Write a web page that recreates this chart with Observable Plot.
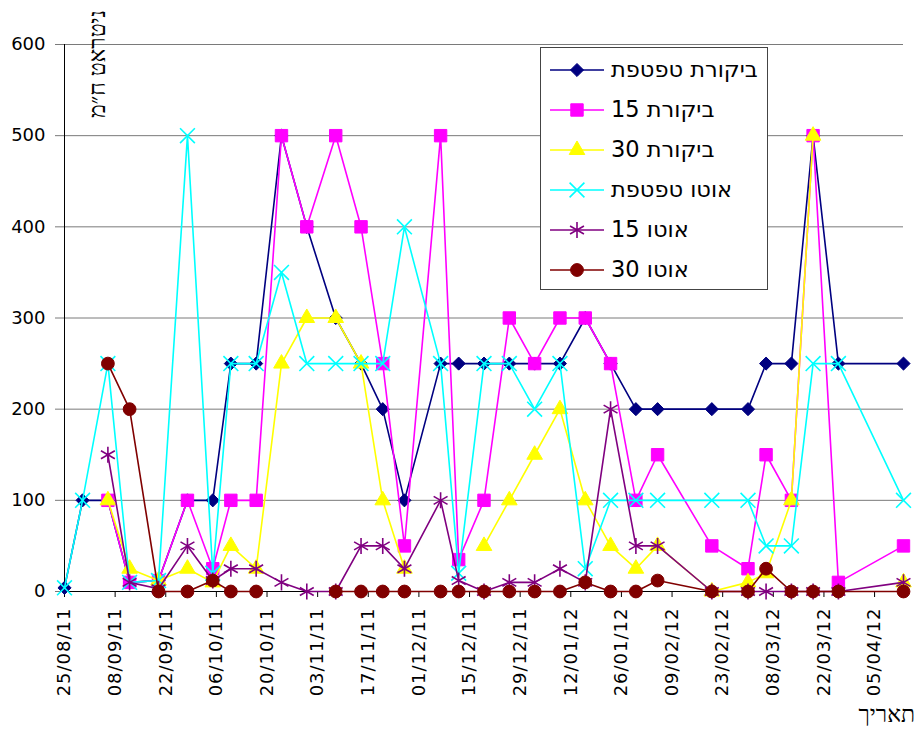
<!DOCTYPE html>
<html>
<head>
<meta charset="utf-8">
<script src="https://cdn.jsdelivr.net/npm/d3@7"></script>
<script src="https://cdn.jsdelivr.net/npm/@observablehq/plot@0.6"></script>
<style>
  body { margin: 0; background: #fff; }
  #wrap { position: relative; width: 923px; height: 733px; overflow: hidden; font-family: "DejaVu Sans", sans-serif; background: #fff; }
  #chart svg { display: block; }
  #chart g[aria-label="x-axis tick label"] text { letter-spacing: 1px; }
  #ytitle { position: absolute; left: 98px; top: 64px; transform: translate(-50%, -50%) rotate(-90deg); white-space: nowrap; direction: rtl; font-family: "Liberation Serif", serif; font-size: 23px; color: #000; }
  #xtitle { position: absolute; right: 8px; top: 702px; direction: rtl; font-family: "Liberation Serif", serif; font-size: 23px; color: #000; }
  #legend { position: absolute; left: 540px; top: 47px; width: 226px; height: 239px; border: 1px solid #444; background: #fff; box-sizing: content-box; padding-top: 2px; }
  .lrow { position: relative; height: 40px; }
  .lrow svg { position: absolute; left: 8px; top: 0; }
  .lrow span { position: absolute; left: 70px; top: 50%; transform: translateY(-52%); direction: rtl; font-size: 22.5px; white-space: nowrap; color: #000; }
</style>
</head>
<body>
<div id="wrap">
  <div id="chart"></div>
  <div id="ytitle">ניטראט ח״מ</div>
  <div id="xtitle">תאריך</div>
  <div id="legend"></div>
</div>
<script>
// ---- data ----
const dates = [
  "2011-08-25","2011-08-30","2011-09-06","2011-09-12","2011-09-20","2011-09-28",
  "2011-10-05","2011-10-10","2011-10-17","2011-10-24","2011-10-31","2011-11-08",
  "2011-11-15","2011-11-21","2011-11-27","2011-12-07","2011-12-12","2011-12-19",
  "2011-12-26","2012-01-02","2012-01-09","2012-01-16","2012-01-23","2012-01-30",
  "2012-02-05","2012-02-20","2012-03-01","2012-03-06","2012-03-13","2012-03-19",
  "2012-03-26","2012-04-13"
];
const seriesNames = ["ביקורת טפטפת", "ביקורת 15", "ביקורת 30", "אוטו טפטפת", "אוטו 15", "אוטו 30"];
const controlDrip = [4,100,100,10,12,100,100,250,250,500,400,300,250,200,100,250,250,250,250,250,250,300,250,200,200,200,200,250,250,500,250,250];
const control15   = [null,null,100,10,12,100,25,100,100,500,400,500,400,250,50,500,35,100,300,250,300,300,250,100,150,50,25,150,100,500,10,50];
const control30   = [null,null,100,25,12,25,10,50,25,250,300,300,250,100,25,null,null,50,100,150,200,100,50,25,50,0,10,20,100,500,null,10];
const autoDrip    = [4,100,250,10,12,500,20,250,250,350,250,250,250,250,400,250,20,250,250,200,250,25,100,100,100,100,100,50,50,250,250,100];
const auto15      = [null,null,150,10,3,50,12,25,25,10,0,0,50,50,25,100,12,0,10,10,25,10,200,50,50,0,0,0,0,0,0,10];
const auto30      = [null,null,250,200,0,0,12,0,0,null,null,0,0,0,0,0,0,0,0,0,0,10,0,0,12,0,0,25,0,0,0,0];
const yTicks = [0,100,200,300,400,500,600];
const xTickLabels = ["2011-08-25","2011-09-08","2011-09-22","2011-10-06","2011-10-20","2011-11-03","2011-11-17","2011-12-01","2011-12-15","2011-12-29","2012-01-12","2012-01-26","2012-02-09","2012-02-23","2012-03-08","2012-03-22","2012-04-05"];

// ---- styles per series ----
const colors  = ["#000080","#FF00FF","#FFFF00","#00FFFF","#800080","#800000"];
const symbols = ["diamond2","square","triangle","times","asterisk","circle"];
const radii   = [5.9, 7.0, 5.8, 6.8, 7.6, 6.4];
const filled  = [true, true, true, false, false, true];

const parse = d3.utcParse("%Y-%m-%d");
const xs = dates.map(parse);
const valueLists = [controlDrip, control15, control30, autoDrip, auto15, auto30];
const series = valueLists.map((vals, k) => ({
  name: seriesNames[k],
  data: xs.map((d, i) => ({date: d, value: vals[i]}))
}));

const marks = [
  Plot.gridY(yTicks, {stroke: "#7a7a7a", strokeOpacity: 1}),
  Plot.axisY({ticks: yTicks, tickSize: 9, tickPadding: 10, fontSize: 18, label: null, stroke: "#7a7a7a"}),
  Plot.axisX({ticks: xTickLabels.map(parse), tickFormat: d3.utcFormat("%d/%m/%y"), tickRotate: -90, tickSize: 6, tickPadding: 10, fontSize: 18, label: null}),
  Plot.ruleY([0], {stroke: "#000"}),
  Plot.ruleX([xs[0]], {stroke: "#000"})
];
series.forEach((s, k) => {
  marks.push(Plot.line(s.data, {x: "date", y: "value", stroke: colors[k], strokeWidth: 1.6}));
  marks.push(Plot.dot(s.data.filter(d => d.value != null), {
    x: "date", y: "value", symbol: symbols[k], r: radii[k],
    fill: filled[k] ? colors[k] : "none", stroke: colors[k], strokeWidth: filled[k] ? 1 : 1.6
  }));
});

const chart = Plot.plot({
  width: 923, height: 733,
  marginLeft: 64, marginRight: 20, marginTop: 44, marginBottom: 142,
  style: {background: "#fff", fontFamily: "DejaVu Sans, sans-serif", color: "#000"},
  x: {type: "utc", domain: [xs[0], xs[xs.length - 1]]},
  y: {domain: [0, 600]},
  marks
});
document.getElementById("chart").appendChild(chart);

// ---- legend ----
const symMap = {diamond2: d3.symbolDiamond2, square: d3.symbolSquare, triangle: d3.symbolTriangle, times: d3.symbolTimes, asterisk: d3.symbolAsterisk, circle: d3.symbolCircle};
const legend = d3.select("#legend");
seriesNames.forEach((name, k) => {
  const row = legend.append("div").attr("class", "lrow");
  const svg = row.append("svg").attr("width", 56).attr("height", 40);
  svg.append("line").attr("x1", 1).attr("x2", 55).attr("y1", 20).attr("y2", 20).attr("stroke", colors[k]).attr("stroke-width", 1.6);
  svg.append("path").attr("transform", "translate(28,20)")
    .attr("d", d3.symbol(symMap[symbols[k]], Math.PI * radii[k] * radii[k])())
    .attr("fill", filled[k] ? colors[k] : "none").attr("stroke", colors[k]).attr("stroke-width", filled[k] ? 1 : 1.6);
  row.append("span").text(name);
});
</script>
</body>
</html>
